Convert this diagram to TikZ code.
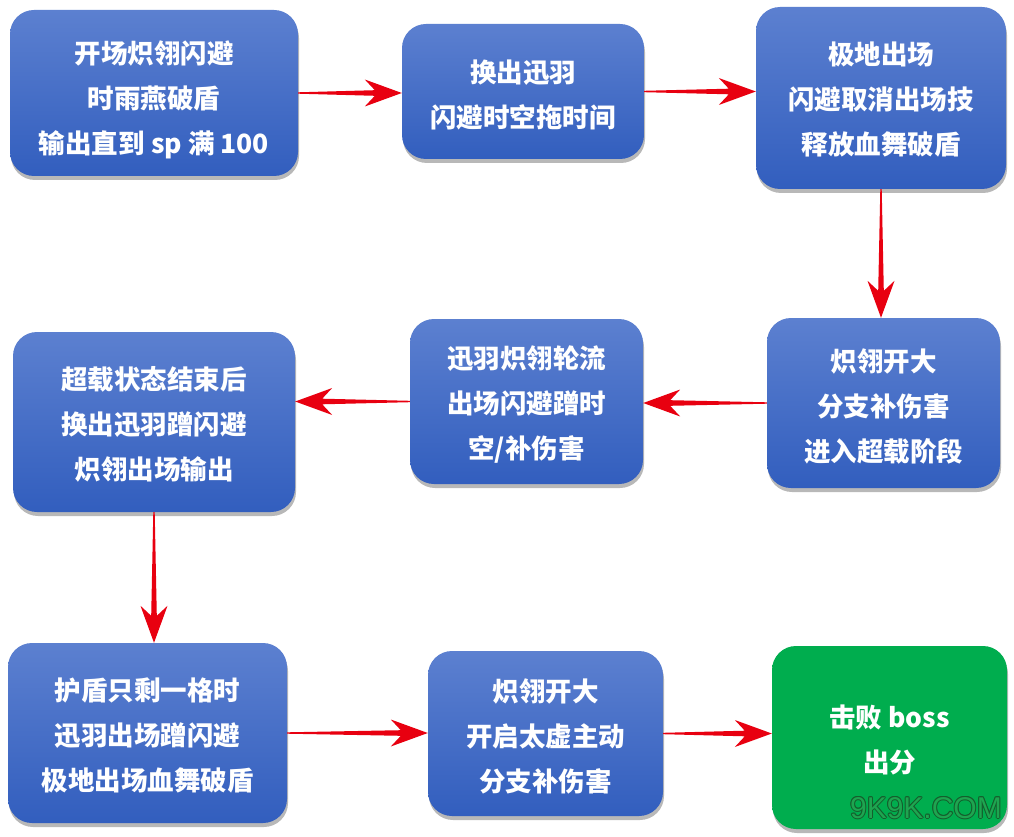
\documentclass[tikz,border=0pt]{standalone}
\usepackage{fontspec}
\newfontfamily\cjk{Noto Sans CJK SC}
\newfontfamily\wmfont{Liberation Sans}
\usetikzlibrary{calc,shadows}
\definecolor{boxtop}{RGB}{92,128,208}
\definecolor{boxbot}{RGB}{50,94,190}
\definecolor{arrowred}{RGB}{232,0,16}
\definecolor{okgreen}{RGB}{0,173,78}
\definecolor{wmline}{RGB}{20,95,45}
\definecolor{wmfill}{RGB}{30,165,80}
\newcommand\tp[1][28pt]{\rule{0pt}{#1}}
\tikzset{
  flowbox/.style={rectangle, rounded corners=24pt, top color=boxtop, bottom color=boxbot,
    draw=none, text=white, align=center, inner sep=0pt,
    font=\cjk\bfseries\fontsize{26.5pt}{45pt}\selectfont,
    drop shadow={shadow xshift=1pt, shadow yshift=-4pt, fill=black, opacity=0.28}},
  endbox/.style={flowbox, top color=okgreen, bottom color=okgreen},
  watermark/.style={font=\wmfont\fontsize{30pt}{30pt}\selectfont, inner sep=0pt, anchor=north east}
}
\newcommand\tarrow[2]{%
  \path (#1) coordinate (ts) (#2) coordinate (tt);
  \path ($(tt)!37pt!(ts)$) coordinate (tb) ($(tt)!27pt!(ts)$) coordinate (tn);
  \fill[arrowred]
    ($(ts)!0.7pt!90:(tt)$) -- ($(tn)!2.8pt!90:(tt)$) -- ($(tb)!13.5pt!90:(tt)$) -- (tt)
    -- ($(tb)!13.5pt!-90:(tt)$) -- ($(tn)!2.8pt!-90:(tt)$) -- ($(ts)!0.7pt!-90:(tt)$) -- cycle;
}
\begin{document}
\begin{tikzpicture}[x=1pt,y=-1pt]
\useasboundingbox[fill=white] (0,0) rectangle (1014,837);
\node[flowbox, minimum width=288pt, minimum height=166pt] (b1) at (154,93)
  {\tp[36pt]开场炽翎闪避\\时雨燕破盾\\输出直到 sp 满 100};
\node[flowbox, minimum width=242pt, minimum height=135pt] (b2) at (523,91.5)
  {\tp[30pt]换出迅羽\\闪避时空拖时间};
\node[flowbox, minimum width=250pt, minimum height=182pt] (b3) at (881,98)
  {\tp[26pt]极地出场\\闪避取消出场技\\释放血舞破盾};
\node[flowbox, minimum width=233pt, minimum height=170pt] (b4) at (883.5,403)
  {\tp[30pt]炽翎开大\\分支补伤害\\进入超载阶段};
\node[flowbox, minimum width=233pt, minimum height=165pt] (b5) at (526.5,401.5)
  {\tp{}迅羽炽翎轮流\\出场闪避蹭时\\空/补伤害};
\node[flowbox, minimum width=282pt, minimum height=180pt] (b6) at (154,422)
  {\tp{}超载状态结束后\\换出迅羽蹭闪避\\炽翎出场输出};
\node[flowbox, minimum width=279pt, minimum height=180pt] (b7) at (147.5,733)
  {\tp{}护盾只剩一格时\\迅羽出场蹭闪避\\极地出场血舞破盾};
\node[flowbox, minimum width=235pt, minimum height=165pt] (b8) at (545.5,733.5)
  {\tp{}炽翎开大\\开启太虚主动\\分支补伤害};
\node[endbox, minimum width=235pt, minimum height=183pt] (b9) at (889.5,737.5)
  {\tp{}击败 boss\\出分};
\foreach \dx/\dy in {-1/0,1/0,0/-1,0/1,-0.7/-0.7,0.7/0.7,-0.7/0.7,0.7/-0.7}
  \node[watermark, text=wmline] at ($(1002,797)+(\dx,\dy)$) {9K9K.COM};
\node[watermark, text=wmfill] (wm) at (1002,797) {9K9K.COM};
\tarrow{b1.east}{b1.east -| b2.west}
\tarrow{b2.east}{b2.east -| b3.west}
\tarrow{b3.south}{b3.south |- b4.north}
\tarrow{b4.west}{b4.west -| b5.east}
\tarrow{b5.west}{b5.west -| b6.east}
\tarrow{b6.south}{b6.south |- b7.north}
\tarrow{b7.east}{b7.east -| b8.west}
\tarrow{b8.east}{b8.east -| b9.west}
\end{tikzpicture}
\end{document}
